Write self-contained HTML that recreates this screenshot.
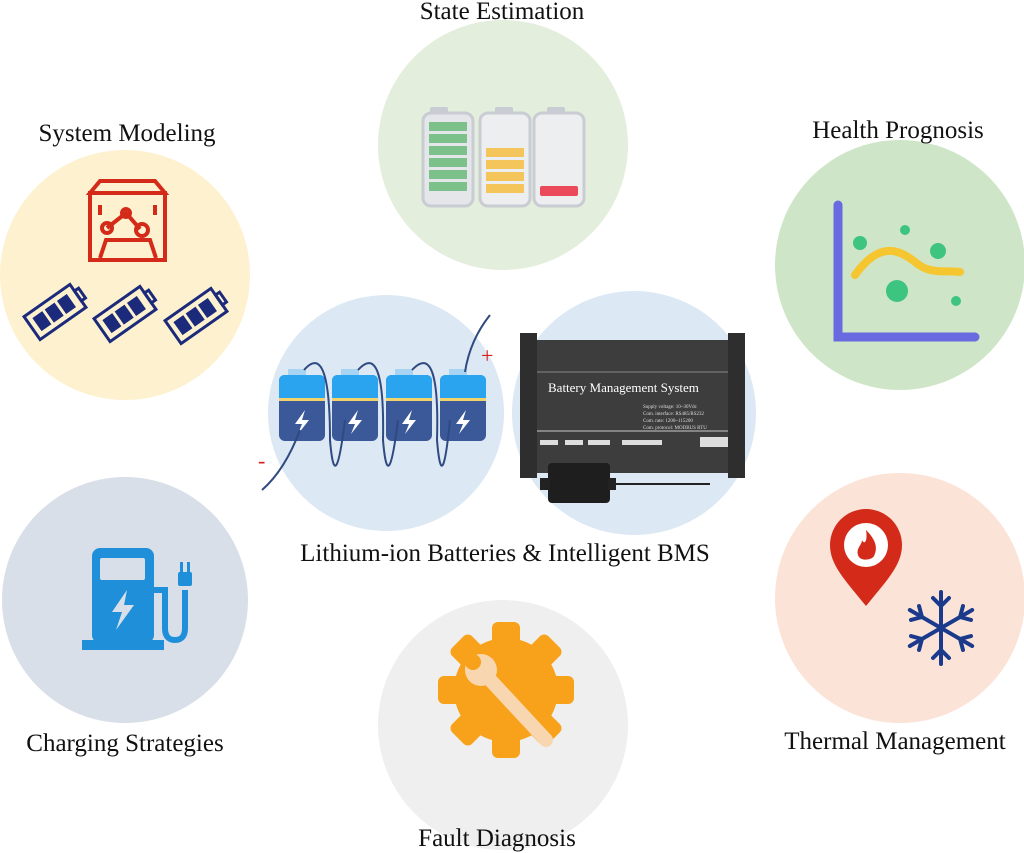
<!DOCTYPE html>
<html><head><meta charset="utf-8"><style>
html,body{margin:0;padding:0;background:#fff;}
svg{display:block;}
text{font-family:"Liberation Serif",serif;font-size:25px;fill:#111;}
</style></head><body>
<svg width="1024" height="853" viewBox="0 0 1024 853" xmlns="http://www.w3.org/2000/svg">
<circle cx="503" cy="145" r="125" fill="#e4eedc"/>
<circle cx="125" cy="275" r="125" fill="#fdf1cf"/>
<circle cx="900" cy="265" r="125" fill="#cfe5c7"/>
<circle cx="386" cy="413" r="118" fill="#dce8f4"/>
<circle cx="634" cy="413" r="122" fill="#dce8f4"/>
<circle cx="125" cy="600" r="123" fill="#d8dfe9"/>
<circle cx="503" cy="725" r="125" fill="#efefef"/>
<circle cx="900" cy="598" r="125" fill="#fbe3d7"/>

<text x="502" y="19" text-anchor="middle">State Estimation</text>
<text x="127" y="141" text-anchor="middle">System Modeling</text>
<text x="898" y="138" text-anchor="middle">Health Prognosis</text>
<text x="505" y="561" text-anchor="middle">Lithium-ion Batteries &amp; Intelligent BMS</text>
<text x="125" y="751" text-anchor="middle">Charging Strategies</text>
<text x="895" y="749" text-anchor="middle">Thermal Management</text>
<text x="497" y="846" text-anchor="middle">Fault Diagnosis</text>

<g>
 <rect x="430" y="107" width="18" height="8" rx="2" fill="#c9ccd2"/>
 <rect x="423" y="113" width="50" height="93" rx="8" fill="#e4e6ea" stroke="#c9ccd2" stroke-width="3"/>
 <g fill="#7cc08a"><rect x="429" y="122" width="38" height="9"/><rect x="429" y="134" width="38" height="9"/><rect x="429" y="146" width="38" height="9"/><rect x="429" y="158" width="38" height="9"/><rect x="429" y="170" width="38" height="9"/><rect x="429" y="182" width="38" height="9"/></g>
 <rect x="495" y="107" width="18" height="8" rx="2" fill="#c9ccd2"/>
 <rect x="480" y="113" width="50" height="93" rx="8" fill="#eceef0" stroke="#c9ccd2" stroke-width="3"/>
 <g fill="#f4c55a"><rect x="486" y="148" width="38" height="9"/><rect x="486" y="160" width="38" height="9"/><rect x="486" y="172" width="38" height="9"/><rect x="486" y="184" width="38" height="9"/></g>
 <rect x="547" y="107" width="18" height="8" rx="2" fill="#c9ccd2"/>
 <rect x="534" y="113" width="50" height="93" rx="8" fill="#eceef0" stroke="#c9ccd2" stroke-width="3"/>
 <rect x="540" y="186" width="38" height="10" rx="2" fill="#ea4a5a"/>
</g>

<g stroke="#d42a1a" stroke-width="4" fill="none">
 <path d="M90 193 L100 181 L155 181 L165 193 Z"/>
 <rect x="90" y="193" width="75" height="67"/>
 <path d="M100 258 L106 240 L150 240 L156 258"/>
 <path d="M100 205 V215 M155 205 V215"/>
 <path d="M107 228 L126 213 L140 229"/>
 <circle cx="107" cy="228" r="5"/><circle cx="126" cy="213" r="4"/><circle cx="142" cy="230" r="6"/>
</g>
<g stroke="#1b2a7a" stroke-width="3" fill="none">
 <g transform="translate(55,312) rotate(-35)"><rect x="-28" y="-14" width="56" height="28"/><rect x="28" y="-6" width="5" height="12"/><g fill="#1b2a7a" stroke="none"><rect x="-22" y="-8" width="12" height="16"/><rect x="-7" y="-8" width="12" height="16"/><rect x="8" y="-8" width="12" height="16"/></g></g>
 <g transform="translate(125,314) rotate(-35)"><rect x="-28" y="-14" width="56" height="28"/><rect x="28" y="-6" width="5" height="12"/><g fill="#1b2a7a" stroke="none"><rect x="-22" y="-8" width="12" height="16"/><rect x="-7" y="-8" width="12" height="16"/><rect x="8" y="-8" width="12" height="16"/></g></g>
 <g transform="translate(196,316) rotate(-35)"><rect x="-28" y="-14" width="56" height="28"/><rect x="28" y="-6" width="5" height="12"/><g fill="#1b2a7a" stroke="none"><rect x="-22" y="-8" width="12" height="16"/><rect x="-7" y="-8" width="12" height="16"/><rect x="8" y="-8" width="12" height="16"/></g></g>
</g>

<path d="M838 205 V337 H975" stroke="#6a6ae0" stroke-width="9" fill="none" stroke-linecap="round"/>
<path d="M855 275 C880 240 900 250 915 262 C930 275 945 270 960 272" stroke="#f5c630" stroke-width="8" fill="none" stroke-linecap="round"/>
<g fill="#3dc47e"><circle cx="860" cy="243" r="7"/><circle cx="905" cy="230" r="5"/><circle cx="938" cy="251" r="8"/><circle cx="897" cy="291" r="11"/><circle cx="956" cy="301" r="5"/></g>

<g>
 <g id="cell">
  <rect x="288" y="369" width="18" height="6" fill="#a8d4f4"/>
  <rect x="279" y="375" width="46" height="66" rx="6" fill="#3b5998"/>
  <path d="M279 381 Q279 375 285 375 H319 Q325 375 325 381 V398 H279 Z" fill="#2aa4ee"/>
  <rect x="279" y="398" width="46" height="3" fill="#f2d26a"/>
  <path d="M305 410 L295 424 H302 L298 434 L309 420 H302 Z" fill="#fff"/>
 </g>
 <use href="#cell" x="53"/><use href="#cell" x="107"/><use href="#cell" x="161"/>
 <path d="M262 490 Q285 470 300 430 M304 370 Q330 340 330 440 Q335 500 345 420 M358 370 Q385 340 383 440 Q388 500 398 420 M412 370 Q440 340 437 440 Q442 500 450 420 M465 372 Q470 340 490 315" stroke="#2f4a80" stroke-width="2" fill="none"/>
 <text x="481" y="363" style="font-size:22px;fill:#d62020">+</text>
 <text x="258" y="468" style="font-size:22px;fill:#d62020">-</text>
</g>

<g>
 <rect x="520" y="333" width="17" height="145" fill="#2e2e2e"/>
 <rect x="728" y="333" width="17" height="145" fill="#2e2e2e"/>
 <rect x="537" y="340" width="191" height="133" fill="#3d3d3d"/>
 <line x1="537" y1="372" x2="728" y2="372" stroke="#888" stroke-width="1"/>
 <text x="548" y="392" style="font-size:13px;fill:#fff">Battery Management System</text>
 <text x="643" y="408" style="font-size:5px;fill:#ddd">Supply voltage: 10~30Vdc</text><text x="643" y="415" style="font-size:5px;fill:#ddd">Com. interface: RS485/RS232</text><text x="643" y="422" style="font-size:5px;fill:#ddd">Com. rate: 1200~115200</text><text x="643" y="429" style="font-size:5px;fill:#ddd">Com. protocol: MODBUS RTU</text>
 <line x1="537" y1="431" x2="728" y2="431" stroke="#ccc"/>
 <rect x="540" y="440" width="18" height="5" fill="#ddd"/><rect x="565" y="440" width="18" height="5" fill="#ddd"/><rect x="588" y="440" width="22" height="5" fill="#ddd"/><rect x="622" y="440" width="40" height="5" fill="#ddd"/><rect x="700" y="437" width="28" height="10" fill="#ddd"/>
 <rect x="548" y="463" width="62" height="40" rx="4" fill="#1e1e1e"/>
 <rect x="540" y="478" width="10" height="12" fill="#222"/><rect x="608" y="478" width="8" height="12" fill="#222"/>
 <line x1="616" y1="484" x2="710" y2="484" stroke="#222" stroke-width="2"/>
</g>

<g>
 <rect x="92" y="548" width="62" height="95" rx="8" fill="#1e8fd8"/>
 <rect x="100" y="558" width="45" height="22" rx="2" fill="#d8dfe9"/>
 <rect x="82" y="640" width="82" height="10" fill="#1e8fd8"/>
 <path d="M127 590 L112 612 H122 L116 630 L134 605 H124 Z" fill="#d8dfe9"/>
 <path d="M154 590 H165 V628 Q165 640 175 640 Q185 640 185 628 V590" stroke="#1e8fd8" stroke-width="6" fill="none"/>
 <rect x="178" y="572" width="14" height="14" rx="2" fill="#1e8fd8"/>
 <rect x="180" y="562" width="3" height="10" fill="#1e8fd8"/><rect x="187" y="562" width="3" height="10" fill="#1e8fd8"/>
</g>

<g transform="translate(506,690)">
 <g fill="#f7a21a">
  <circle r="52"/>
  <rect x="-14" y="-68" width="28" height="30" rx="6"/><rect x="-14" y="-68" width="28" height="30" rx="6" transform="rotate(45)"/><rect x="-14" y="-68" width="28" height="30" rx="6" transform="rotate(90)"/><rect x="-14" y="-68" width="28" height="30" rx="6" transform="rotate(135)"/><rect x="-14" y="-68" width="28" height="30" rx="6" transform="rotate(180)"/><rect x="-14" y="-68" width="28" height="30" rx="6" transform="rotate(225)"/><rect x="-14" y="-68" width="28" height="30" rx="6" transform="rotate(270)"/><rect x="-14" y="-68" width="28" height="30" rx="6" transform="rotate(315)"/>
 </g>
 <path d="M-25 -20 L40 50" stroke="#f8d6b0" stroke-width="14" stroke-linecap="round"/>
 <circle cx="-25" cy="-20" r="16" fill="#f8d6b0"/>
 <circle cx="-33" cy="-28" r="8" fill="#f7a21a"/>
</g>

<g>
 <path d="M866 606 C845 580 830 565 830 545 A36 36 0 0 1 902 545 C902 565 887 580 866 606 Z" fill="#d42a1a"/>
 <circle cx="866" cy="545" r="22" fill="#fff"/>
 <path d="M866 530 C876 540 878 548 874 556 C872 560 860 562 858 555 C856 548 862 545 862 540 C864 545 868 542 866 530 Z" fill="#d42a1a"/>
 <g stroke="#1b3a8c" stroke-width="4" stroke-linecap="round" transform="translate(941,628)">
  <line x1="0" y1="-36" x2="0" y2="36"/><line x1="0" y1="-36" x2="0" y2="36" transform="rotate(60)"/><line x1="0" y1="-36" x2="0" y2="36" transform="rotate(120)"/>
  <g fill="none"><path d="M-8 -30 L0 -22 L8 -30 M-8 30 L0 22 L8 30"/><path d="M-8 -30 L0 -22 L8 -30 M-8 30 L0 22 L8 30" transform="rotate(60)"/><path d="M-8 -30 L0 -22 L8 -30 M-8 30 L0 22 L8 30" transform="rotate(120)"/></g>
 </g>
</g>
</svg>
</body></html>
